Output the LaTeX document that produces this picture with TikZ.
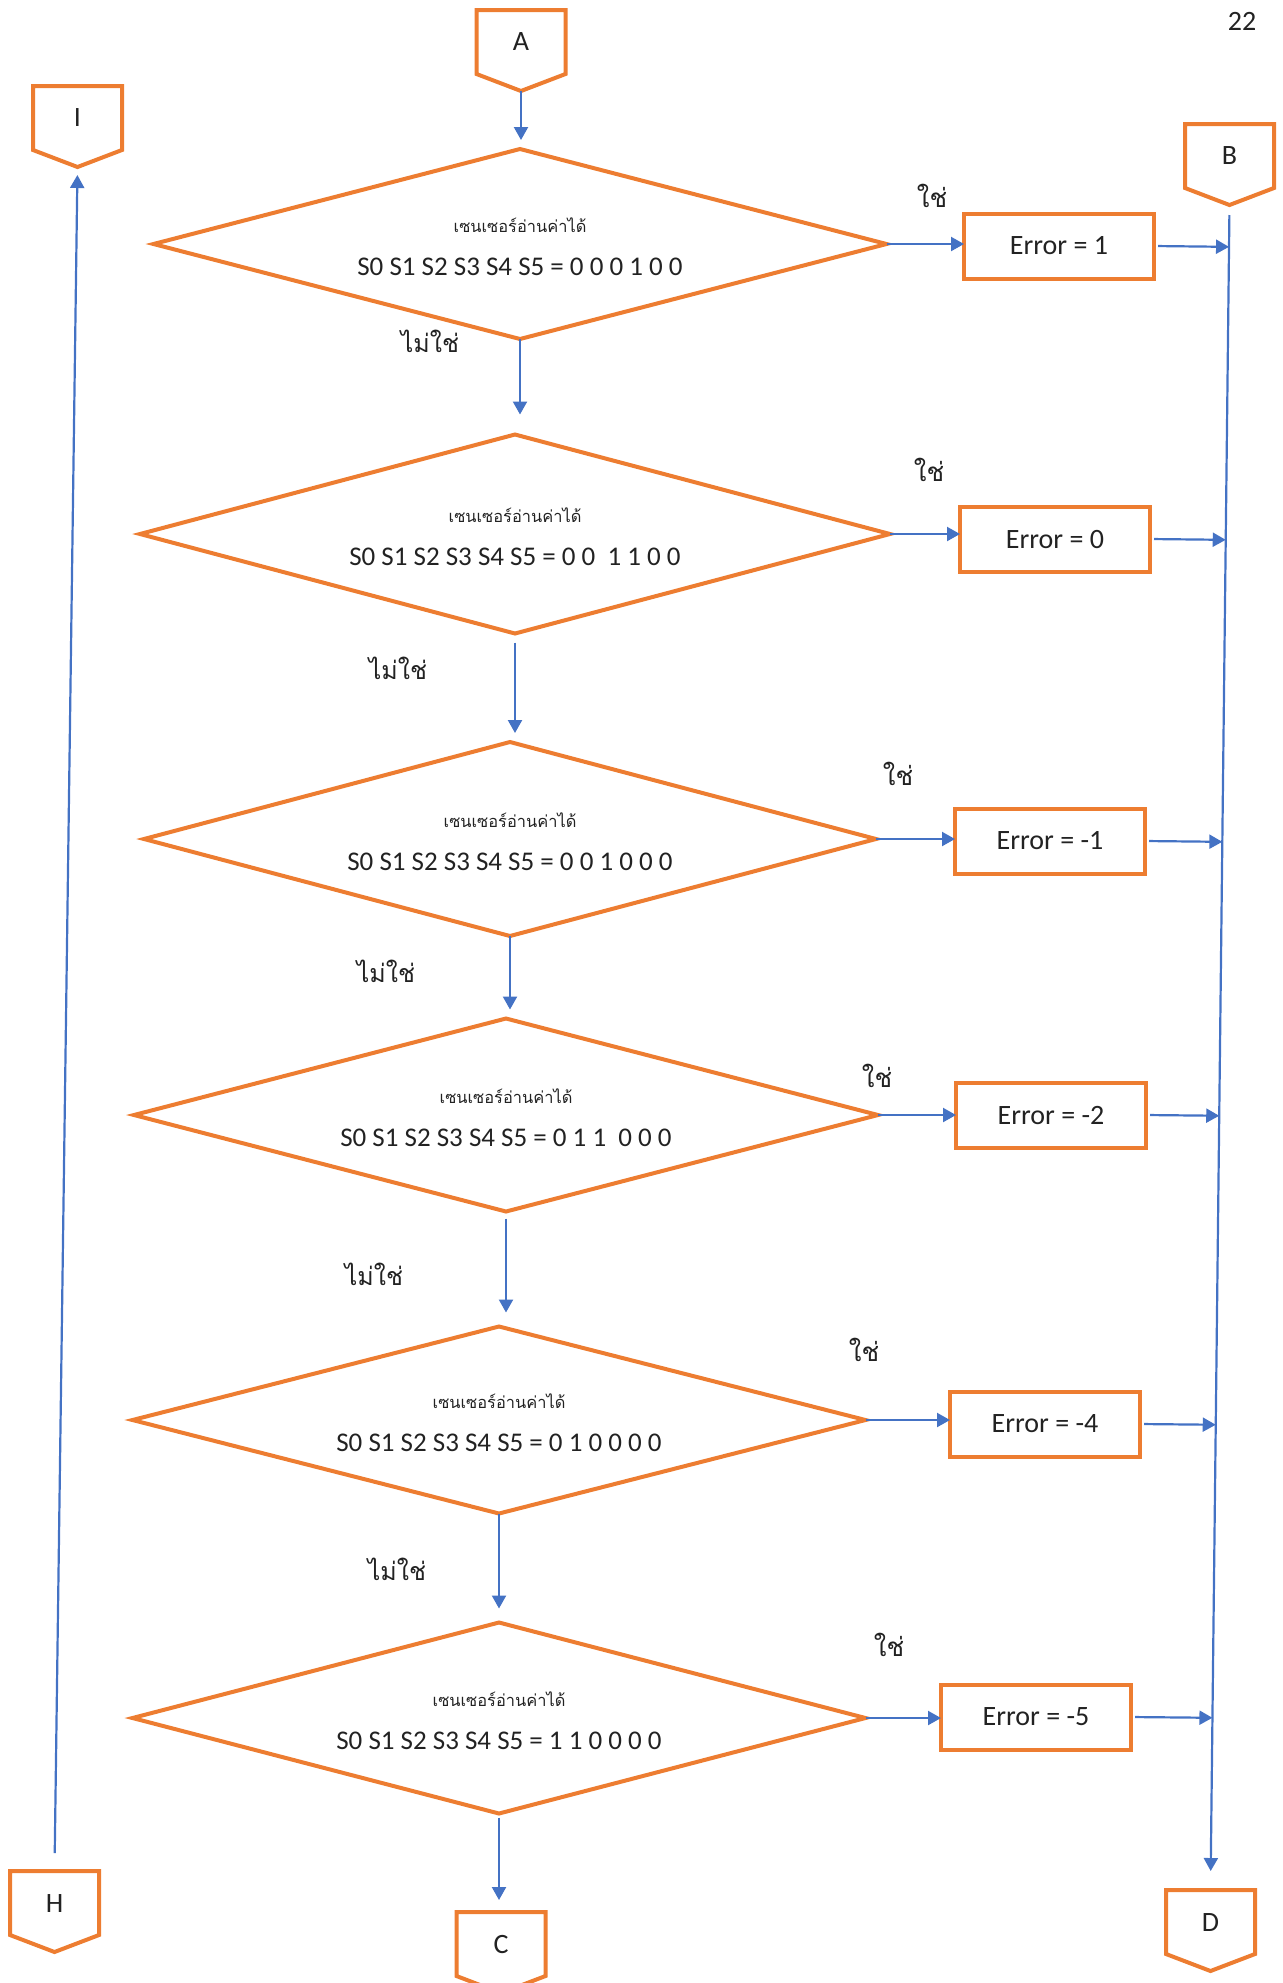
\documentclass[tikz,border=0pt]{standalone}
\usepackage{fontspec}
\setmainfont{Carlito}
\newfontfamily\thai[Script=Thai]{Loma}
\usetikzlibrary{shapes.geometric,arrows.meta,calc}
\definecolor{flowline}{HTML}{4472C4}
\definecolor{frame}{HTML}{ED7D31}
\definecolor{ink}{HTML}{222222}

\tikzset{
  test/.style={shape=diamond, draw=frame, line width=2pt, inner sep=0pt, outer sep=0pt, aspect=3.8},
  sense/.style={font=\thai\fontsize{8.2}{10}\selectfont, text=ink, inner sep=0pt},
  bits/.style={font=\fontsize{13.5}{16}\selectfont, text=ink, inner sep=0pt},
  result/.style={rectangle, draw=frame, line width=2pt, minimum width=95pt, minimum height=32.5pt,
    inner sep=0pt, outer sep=0pt, font=\fontsize{14}{16}\selectfont, text=ink},
  portbox/.style={rectangle, minimum width=44.5pt, minimum height=32pt, inner sep=0pt, outer sep=0pt,
    font=\fontsize{14}{16}\selectfont, text=ink},
  port/.style={draw=frame, line width=2pt, line join=miter},
  flow/.style={draw=flowline, line width=1.1pt, -{Triangle[length=6.5pt,width=7pt]}},
  yes/.style={font=\thai\fontsize{13}{15}\selectfont, text=ink, inner sep=0pt},
  no/.style={font=\thai\fontsize{12.5}{15}\selectfont, text=ink, inner sep=0pt},
}

% off-page connector: box with a pointed bottom
\newcommand\offpage[3]{%
  \node[portbox] (#1) at (#2) {#3};
  \coordinate (#1-tip) at ($(#1.south)+(0,17)$);
  \draw[port] (#1.north west) -- (#1.north east) -- (#1.south east) -- (#1-tip)
    -- (#1.south west) -- cycle;
}

% one sensor test: diamond with its two text lines
\newcommand\sensortest[5]{% name, position, width, height, bits
  \node[test, minimum width=#3, minimum height=#4] (#1) at (#2) {};
  \node[sense] (#1t) at ($(#1)+(0,-19)$) {เซนเซอร์อ่านค่าได้};
  \node[bits] (#1v) at ($(#1)+(0,23)$) {S0 S1 S2 S3 S4 S5 = #5};
}

\begin{document}
\begin{tikzpicture}[x=0.5pt, y=-0.5pt]
\useasboundingbox (0,0) rectangle (1282,1983);

\node[font=\fontsize{14}{16}\selectfont, text=ink, inner sep=0pt] (page) at (1242,21) {22};

% connectors
\offpage{A}{521,42}{A}
\offpage{I}{77.5,118}{I}
\offpage{B}{1229.5,156}{B}
\offpage{H}{54.5,1903}{H}
\offpage{C}{501,1944}{C}
\offpage{D}{1210.5,1922}{D}

% decisions
\sensortest{d1}{520,244}{366.5pt}{95pt}{0 0 0 1 0 0}
\sensortest{d2}{515,534}{375pt}{99.5pt}{0 0 \ 1 1 0 0}
\sensortest{d3}{510,839}{366pt}{97pt}{0 0 1 0 0 0}
\sensortest{d4}{506,1115}{372pt}{96.5pt}{0 1 1 \ 0 0 0}
\sensortest{d5}{499,1420}{366.5pt}{93.5pt}{0 1 0 0 0 0}
\sensortest{d6}{499,1718}{366.5pt}{95.5pt}{1 1 0 0 0 0}

% results
\node[result] (b1) at (1059,246) {Error = 1};
\node[result] (b2) at (1055,539) {Error = 0};
\node[result] (b3) at (1050,841) {Error = -1};
\node[result] (b4) at (1051,1115) {Error = -2};
\node[result] (b5) at (1045,1424) {Error = -4};
\node[result] (b6) at (1036,1717) {Error = -5};

% yes / no labels
\node[yes] (y1) at (932,196) {ใช่};
\node[yes] (y2) at (929,470) {ใช่};
\node[yes] (y3) at (898,774) {ใช่};
\node[yes] (y4) at (877,1076) {ใช่};
\node[yes] (y5) at (864,1350) {ใช่};
\node[yes] (y6) at (889,1645) {ใช่};
\node[no] (n1) at (430,341) {ไม่ใช่};
\node[no] (n2) at (398,668) {ไม่ใช่};
\node[no] (n3) at (386,971) {ไม่ใช่};
\node[no] (n4) at (374,1274) {ไม่ใช่};
\node[no] (n5) at (397,1569) {ไม่ใช่};

% main chain
\draw[flow, shorten >=4.5pt] (A-tip) -- (A-tip |- d1.north);
\draw[flow, shorten >=10pt] (d1.south) -- (d1.south |- d2.north);
\draw[flow, shorten <=4.5pt, shorten >=4.5pt] (d2.south) -- (d2.south |- d3.north);
\draw[flow, shorten >=4.5pt] (d3.south) -- (d3.south |- d4.north);
\draw[flow, shorten <=3.5pt, shorten >=7pt] (d4.south) -- (d4.south |- d5.north);
\draw[flow, shorten >=7pt] (d5.south) -- (d5.south |- d6.north);
\draw[flow, shorten <=2pt, shorten >=6pt] (d6.south) -- (d6.south |- C.north);

% yes branches
\foreach \k in {1,...,6}{
  \draw[flow] (d\k.east) -- (d\k.east -| b\k.west);
}

% collector line B -> D and feeds into it
\draw[flow, shorten <=5pt, shorten >=9.5pt] (B-tip) -- (D.north);
\foreach \k in {1,...,6}{
  \draw[flow, shorten <=2pt] (b\k.east) -- ($(B-tip)!(b\k.east)!(D.north)$);
}

% return line H -> I
\draw[flow, shorten <=9pt, shorten >=4pt] (H.north) -- (I-tip);
\end{tikzpicture}
\end{document}
